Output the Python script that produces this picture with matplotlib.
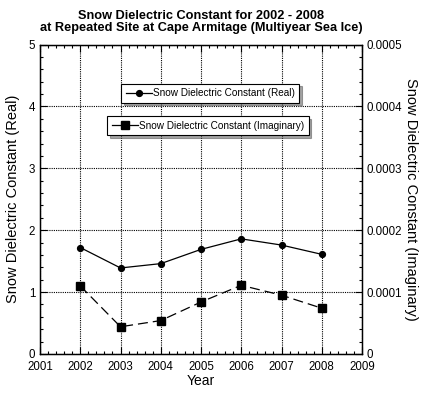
import matplotlib
matplotlib.use("Agg")
import matplotlib.pyplot as plt
from matplotlib.ticker import MultipleLocator, FuncFormatter
from matplotlib.lines import Line2D

plt.rcParams['font.family'] = ['Liberation Sans', 'DejaVu Sans']

years = [2002, 2003, 2004, 2005, 2006, 2007, 2008]
real_vals = [1.72, 1.39, 1.46, 1.69, 1.86, 1.76, 1.61]
imag_vals = [0.000110, 0.000044, 0.000054, 0.000084, 0.000111, 0.000095, 0.000074]
real_label = "Snow Dielectric Constant (Real)"
imag_label = "Snow Dielectric Constant (Imaginary)"

fig = plt.figure(figsize=(4.24, 3.95), dpi=100)
ax = fig.add_axes([40/424, 1-354/395, (362-40)/424, (354-44.5)/395])
ax2 = ax.twinx()

ax.plot(years, real_vals, '-', color='black', lw=0.9, marker='o', ms=4.2)
ax2.plot(years, imag_vals, color='black', lw=0.9, marker='s', ms=6.3,
         linestyle=(0, (8, 4)))

ax.set_xlim(2001, 2009)
ax.set_ylim(0, 5)
ax2.set_ylim(0, 0.0005)

ax.xaxis.set_major_locator(MultipleLocator(1))
ax.xaxis.set_minor_locator(MultipleLocator(0.2))
ax.yaxis.set_major_locator(MultipleLocator(1))
ax.yaxis.set_minor_locator(MultipleLocator(0.2))
ax2.yaxis.set_major_locator(MultipleLocator(0.0001))
ax2.yaxis.set_minor_locator(MultipleLocator(0.00002))
ax2.yaxis.set_major_formatter(FuncFormatter(lambda v, p: '0' if abs(v) < 1e-12 else '%g' % round(v, 6)))

ax.tick_params(which='both', direction='in', top=True, right=False, labelsize=8.3, width=0.8)
ax.tick_params(which='major', length=5)
ax.tick_params(which='minor', length=2.5)
ax.tick_params(axis='x', pad=5)
ax2.tick_params(which='both', direction='in', labelsize=8.3, width=0.8)
ax2.tick_params(which='major', length=5)
ax2.tick_params(which='minor', length=2.5)

ax.grid(True, which='major', linestyle=(0, (1, 1)), color='black', lw=0.8)

for a in (ax, ax2):
    for s in a.spines.values():
        s.set_linewidth(0.9)

ax.set_xlabel("Year", fontsize=10, labelpad=1)
ax.set_ylabel(real_label, fontsize=10.5, labelpad=6)
ax2.set_ylabel(imag_label, fontsize=10.5, rotation=-90, labelpad=11)

ax.set_title("Snow Dielectric Constant for 2002 - 2008\nat Repeated Site at Cape Armitage (Multiyear Sea Ice)",
             fontsize=9.2, fontweight='bold', pad=10, linespacing=1.0)

h1 = Line2D([], [], color='black', lw=0.9, marker='o', ms=4.2)
h2 = Line2D([], [], color='black', lw=0.9, marker='s', ms=6.3)
common = dict(bbox_transform=fig.transFigure, fontsize=7.2, shadow=True, fancybox=False,
              edgecolor='black', framealpha=1, handlelength=2.6, handletextpad=0.1,
              borderpad=0.45, borderaxespad=0)
leg1 = ax2.legend([h1], [real_label], loc='center', bbox_to_anchor=(210/424, 1-93/395), **common)
leg1.get_frame().set_linewidth(0.8)
ax2.add_artist(leg1)
leg2 = ax2.legend([h2], [imag_label], loc='center', bbox_to_anchor=(208/424, 1-126/395), **common)
leg2.get_frame().set_linewidth(0.8)

fig.savefig("out.png", dpi=100)
